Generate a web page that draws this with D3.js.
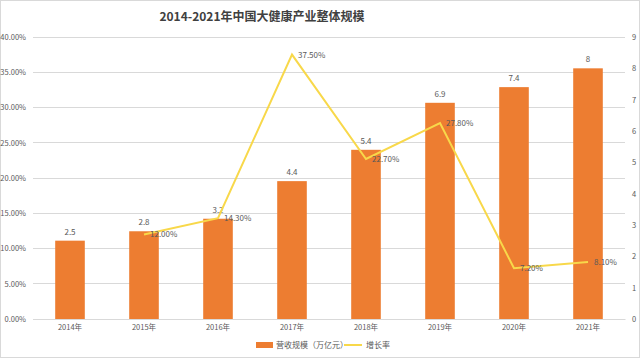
<!DOCTYPE html>
<html><head><meta charset="utf-8">
<script src="https://cdn.jsdelivr.net/npm/d3@7"></script>
<style>body{margin:0;background:#fff}svg{display:block}text{font-family:"Noto Sans CJK SC","Liberation Sans",sans-serif}</style>
</head><body><svg id="c" width="640" height="358"></svg>
<script>
const years = ["2014年","2015年","2016年","2017年","2018年","2019年","2020年","2021年"];
const scale = [2.5,2.8,3.2,4.4,5.4,6.9,7.4,8];
const growth = [null,12.0,14.3,37.5,22.7,27.8,7.2,8.1];
const leftTicks = [0,5,10,15,20,25,30,35,40];
const rightTicks = [0,1,2,3,4,5,6,7,8,9];
const title = "2014-2021年中国大健康产业整体规模";
const legendNames = ["营收规模（万亿元）","增长率"];

const svg = d3.select("#c");
const W=640,H=358, m={l:33,r:15,t:37,b:39};
const pw = W-m.l-m.r, ph = H-m.t-m.b;
svg.append("rect").attr("x",0.5).attr("y",0.5).attr("width",W-1).attr("height",H-1).attr("fill","#fff").attr("stroke","#d9d9d9");
svg.append("text").attr("x",262).attr("y",21).attr("text-anchor","middle").attr("font-size",12).attr("font-weight","bold").attr("fill","#404040").text(title);

const x = d3.scaleBand().domain(years).range([m.l,m.l+pw]).paddingInner(0.6).paddingOuter(0.3);
const xc = d3.scaleBand().domain(years).range([m.l,m.l+pw]);
const yL = d3.scaleLinear().domain([0,40]).range([m.t+ph,m.t]);
const yR = d3.scaleLinear().domain([0,9]).range([m.t+ph,m.t]);

svg.append("g").selectAll("line").data(leftTicks).join("line")
  .attr("x1",m.l).attr("x2",m.l+pw).attr("y1",d=>yL(d)).attr("y2",d=>yL(d))
  .attr("stroke","#d9d9d9").attr("stroke-width",1).attr("shape-rendering","crispEdges");

const gl = svg.append("g").attr("transform",`translate(${m.l-4},0)`)
  .call(d3.axisLeft(yL).tickValues(leftTicks).tickSize(0).tickFormat(d=>d.toFixed(2)+"%"));
gl.select(".domain").remove();
gl.selectAll("text").attr("font-size",7.5).attr("fill","#595959").attr("font-family","Liberation Sans, sans-serif");

const gr = svg.append("g").attr("transform",`translate(${m.l+pw+4},0)`)
  .call(d3.axisRight(yR).tickValues(rightTicks).tickSize(0));
gr.select(".domain").remove();
gr.selectAll("text").attr("font-size",7.5).attr("fill","#595959").attr("font-family","Liberation Sans, sans-serif");

const gx = svg.append("g").attr("transform",`translate(0,${m.t+ph})`).call(d3.axisBottom(xc).tickSize(0).tickPadding(6));
gx.select(".domain").attr("stroke","#d9d9d9");
gx.selectAll("text").attr("font-size",7.5).attr("fill","#595959");

const color = "#ED7D31", lineColor = "#F8D84A";
const barData = years.map((y,i)=>({y,v:scale[i]}));
svg.append("g").selectAll("rect").data(barData).join("rect")
  .attr("x",d=>x(d.y)).attr("width",x.bandwidth()).attr("y",d=>yR(d.v)).attr("height",d=>yR(0)-yR(d.v)).attr("fill",color);
svg.append("g").selectAll("text").data(barData).join("text")
  .attr("x",d=>x(d.y)+x.bandwidth()/2).attr("y",d=>yR(d.v)-6).attr("text-anchor","middle")
  .attr("font-size",8).attr("fill","#595959").attr("font-family","Liberation Sans, sans-serif").text(d=>d.v);

const lineData = years.map((y,i)=>({y,v:growth[i]})).filter(d=>d.v!==null);
const cx = d=>xc(d.y)+xc.bandwidth()/2;
svg.append("path").datum(lineData).attr("fill","none").attr("stroke",lineColor).attr("stroke-width",2)
  .attr("d",d3.line().x(cx).y(d=>yL(d.v)));
svg.append("g").selectAll("text").data(lineData).join("text")
  .attr("x",d=>cx(d)+6).attr("y",d=>yL(d.v)+3)
  .attr("font-size",8).attr("fill","#595959").attr("font-family","Liberation Sans, sans-serif").text(d=>d.v.toFixed(2)+"%");

const lg = svg.append("g");
lg.append("rect").attr("x",256).attr("y",342).attr("width",17).attr("height",6).attr("fill",color);
lg.append("text").attr("x",276).attr("y",348).attr("font-size",8).attr("fill","#595959").text(legendNames[0]);
lg.append("line").attr("x1",344).attr("x2",362).attr("y1",345).attr("y2",345).attr("stroke",lineColor).attr("stroke-width",2);
lg.append("text").attr("x",366).attr("y",348).attr("font-size",8).attr("fill","#595959").text(legendNames[1]);
</script></body></html>
